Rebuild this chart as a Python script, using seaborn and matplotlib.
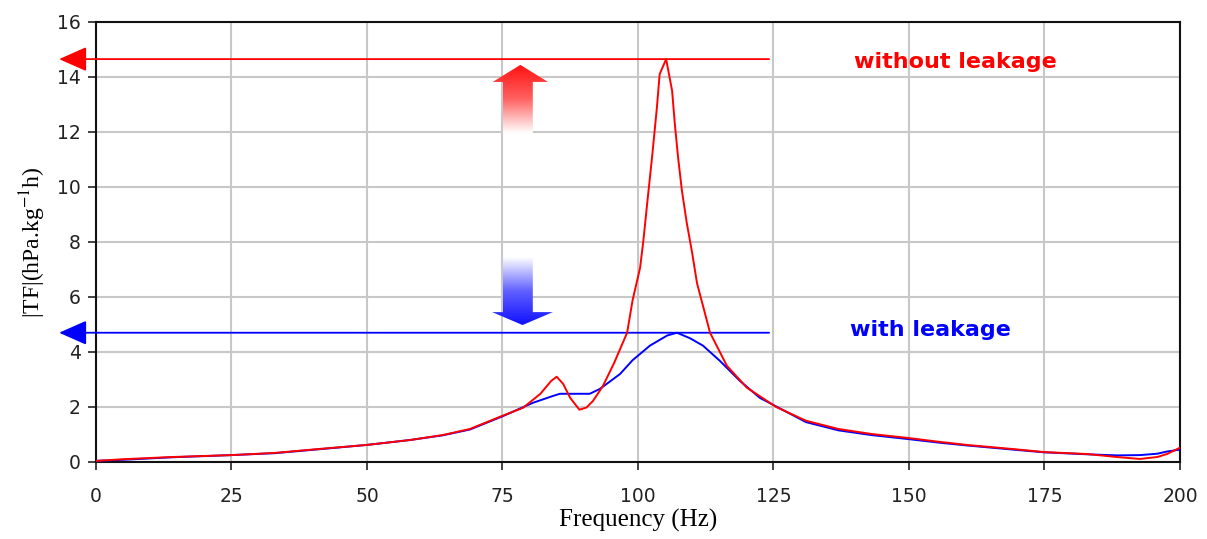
import numpy as np
import pandas as pd
import matplotlib
matplotlib.use('Agg')
import matplotlib.pyplot as plt
import seaborn as sns
from matplotlib.patches import Polygon
from matplotlib.colors import LinearSegmentedColormap

# curve
freq_red = [0, 5, 14, 25, 33, 41, 50, 58, 64, 69, 75, 78.8, 82, 84, 85, 86.2, 87.5,
            89.2, 90.5, 91.7, 93.5, 95.6, 98, 99, 100.4, 101, 101.7, 102.6, 103.5,
            104, 105.2, 106.3, 106.8, 107.4, 108.1, 109, 110, 110.9, 113.3, 116.4,
            120.1, 125.5, 131, 137, 143, 150, 155.7, 160.7, 169.2, 175, 182.8,
            188.4, 192.6, 195.8, 197.6, 200]
tf_red = [0.04, 0.1, 0.18, 0.25, 0.33, 0.47, 0.62, 0.8, 0.98, 1.2, 1.68, 1.97, 2.48,
          2.95, 3.1, 2.84, 2.33, 1.9, 1.98, 2.22, 2.75, 3.6, 4.7, 5.87, 7.07, 8.05,
          9.4, 11.08, 12.9, 14.1, 14.65, 13.5, 12.3, 11.08, 9.88, 8.7, 7.6, 6.5, 4.7,
          3.5, 2.7, 2.0, 1.5, 1.2, 1.02, 0.87, 0.73, 0.62, 0.47, 0.36, 0.29, 0.18,
          0.11, 0.18, 0.29, 0.52]

freq_blue = [0, 5, 14, 25, 33, 41, 50, 58, 64, 69, 75, 80.6, 84.3, 85.6, 91.1, 93,
             96.7, 99, 100.4, 102.2, 105.4, 107.2, 109.6, 112, 115.1, 118.8, 122.5,
             125.5, 131, 137, 143, 150, 155.7, 160.7, 169.2, 175, 182.8, 188.4,
             192.6, 195.8, 197.6, 200]
tf_blue = [0.04, 0.08, 0.17, 0.25, 0.32, 0.46, 0.62, 0.8, 0.97, 1.18, 1.66, 2.15, 2.4,
           2.48, 2.48, 2.66, 3.2, 3.7, 3.93, 4.23, 4.6, 4.7, 4.5, 4.23, 3.68, 2.95,
           2.33, 2.02, 1.45, 1.15, 0.98, 0.83, 0.7, 0.6, 0.45, 0.35, 0.28, 0.24,
           0.25, 0.3, 0.38, 0.45]

peak_without = 14.65
peak_with = 4.7
x_ticks = [0, 25, 50, 75, 100, 125, 150, 175, 200]
y_ticks = [0, 2, 4, 6, 8, 10, 12, 14, 16]

df_red = pd.DataFrame({'f': freq_red, 'tf': tf_red})
df_blue = pd.DataFrame({'f': freq_blue, 'tf': tf_blue})

plt.rcParams['mathtext.fontset'] = 'stix'

fig = plt.figure(figsize=(12.07, 5.39), dpi=100)
ax = fig.add_axes([0.0795, 0.1429, 0.8981, 0.8163])

ax.grid(True, color='#c8c8c8', lw=1.5)
ax.set_axisbelow(True)

sns.lineplot(data=df_blue, x='f', y='tf', color='#0000ff', lw=1.4, sort=False,
             estimator=None, ax=ax, zorder=3)
sns.lineplot(data=df_red, x='f', y='tf', color='#ff0000', lw=1.4, sort=False,
             estimator=None, ax=ax, zorder=4)

# horizontal level arrows
for lvl, col in [(peak_without, '#ff0000'), (peak_with, '#0000ff')]:
    ax.annotate('', xy=(-6.8, lvl), xytext=(124.2, lvl), annotation_clip=False,
                arrowprops=dict(arrowstyle='-|>,head_length=0.86,head_width=0.38',
                                color=col, lw=1.3, shrinkA=0, shrinkB=0,
                                mutation_scale=20))

ax.text(158.5, 14.55, 'without leakage', color='#ff0000', fontsize=16,
        fontweight='bold', ha='center', va='center')
ax.text(154, 4.8, 'with leakage', color='#0000ff', fontsize=16,
        fontweight='bold', ha='center', va='center')

# gradient double arrow
up = Polygon([(75.1, 11.96), (75.1, 13.82), (73.2, 13.82), (78.3, 14.44),
              (83.4, 13.82), (80.6, 13.82), (80.6, 11.96)], closed=True,
             transform=ax.transData, facecolor='none', edgecolor='none')
down = Polygon([(75.1, 7.45), (75.1, 5.45), (73.1, 5.45), (78.7, 4.98),
                (84.3, 5.45), (80.6, 5.45), (80.6, 7.45)], closed=True,
               transform=ax.transData, facecolor='none', edgecolor='none')
ax.add_patch(up)
ax.add_patch(down)
grad = np.linspace(0, 1, 256).reshape(-1, 1)
cm_red = LinearSegmentedColormap.from_list('r', ['#ffffff', '#ff6060', '#ff1010'])
cm_blue = LinearSegmentedColormap.from_list('b', ['#1010ff', '#6060ff', '#ffffff'])
im1 = ax.imshow(grad, cmap=cm_red, origin='lower', aspect='auto',
                extent=(73, 84.5, 11.96, 14.44), zorder=5)
im1.set_clip_path(up)
im2 = ax.imshow(grad, cmap=cm_blue, origin='lower', aspect='auto',
                extent=(73, 84.5, 4.98, 7.45), zorder=5)
im2.set_clip_path(down)

ax.set_xlim(0, 200)
ax.set_ylim(0, 16)
ax.set_xticks(x_ticks)
ax.set_yticks(y_ticks)
ax.tick_params(axis='both', direction='out', length=6, width=1.2, labelsize=13.5,
               colors='#222222')
ax.tick_params(axis='x', pad=12)
ax.tick_params(axis='y', pad=5)
for s in ax.spines.values():
    s.set_color('#111111')
    s.set_linewidth(1.5)

ax.set_xlabel('Frequency (Hz)', fontsize=18, family='Liberation Serif', labelpad=2)
ax.set_ylabel(r'|TF|(hPa.kg$^{-1}$h)', fontsize=17, family='Liberation Serif',
              labelpad=6)

fig.savefig('out.png', dpi=100, facecolor='white')
